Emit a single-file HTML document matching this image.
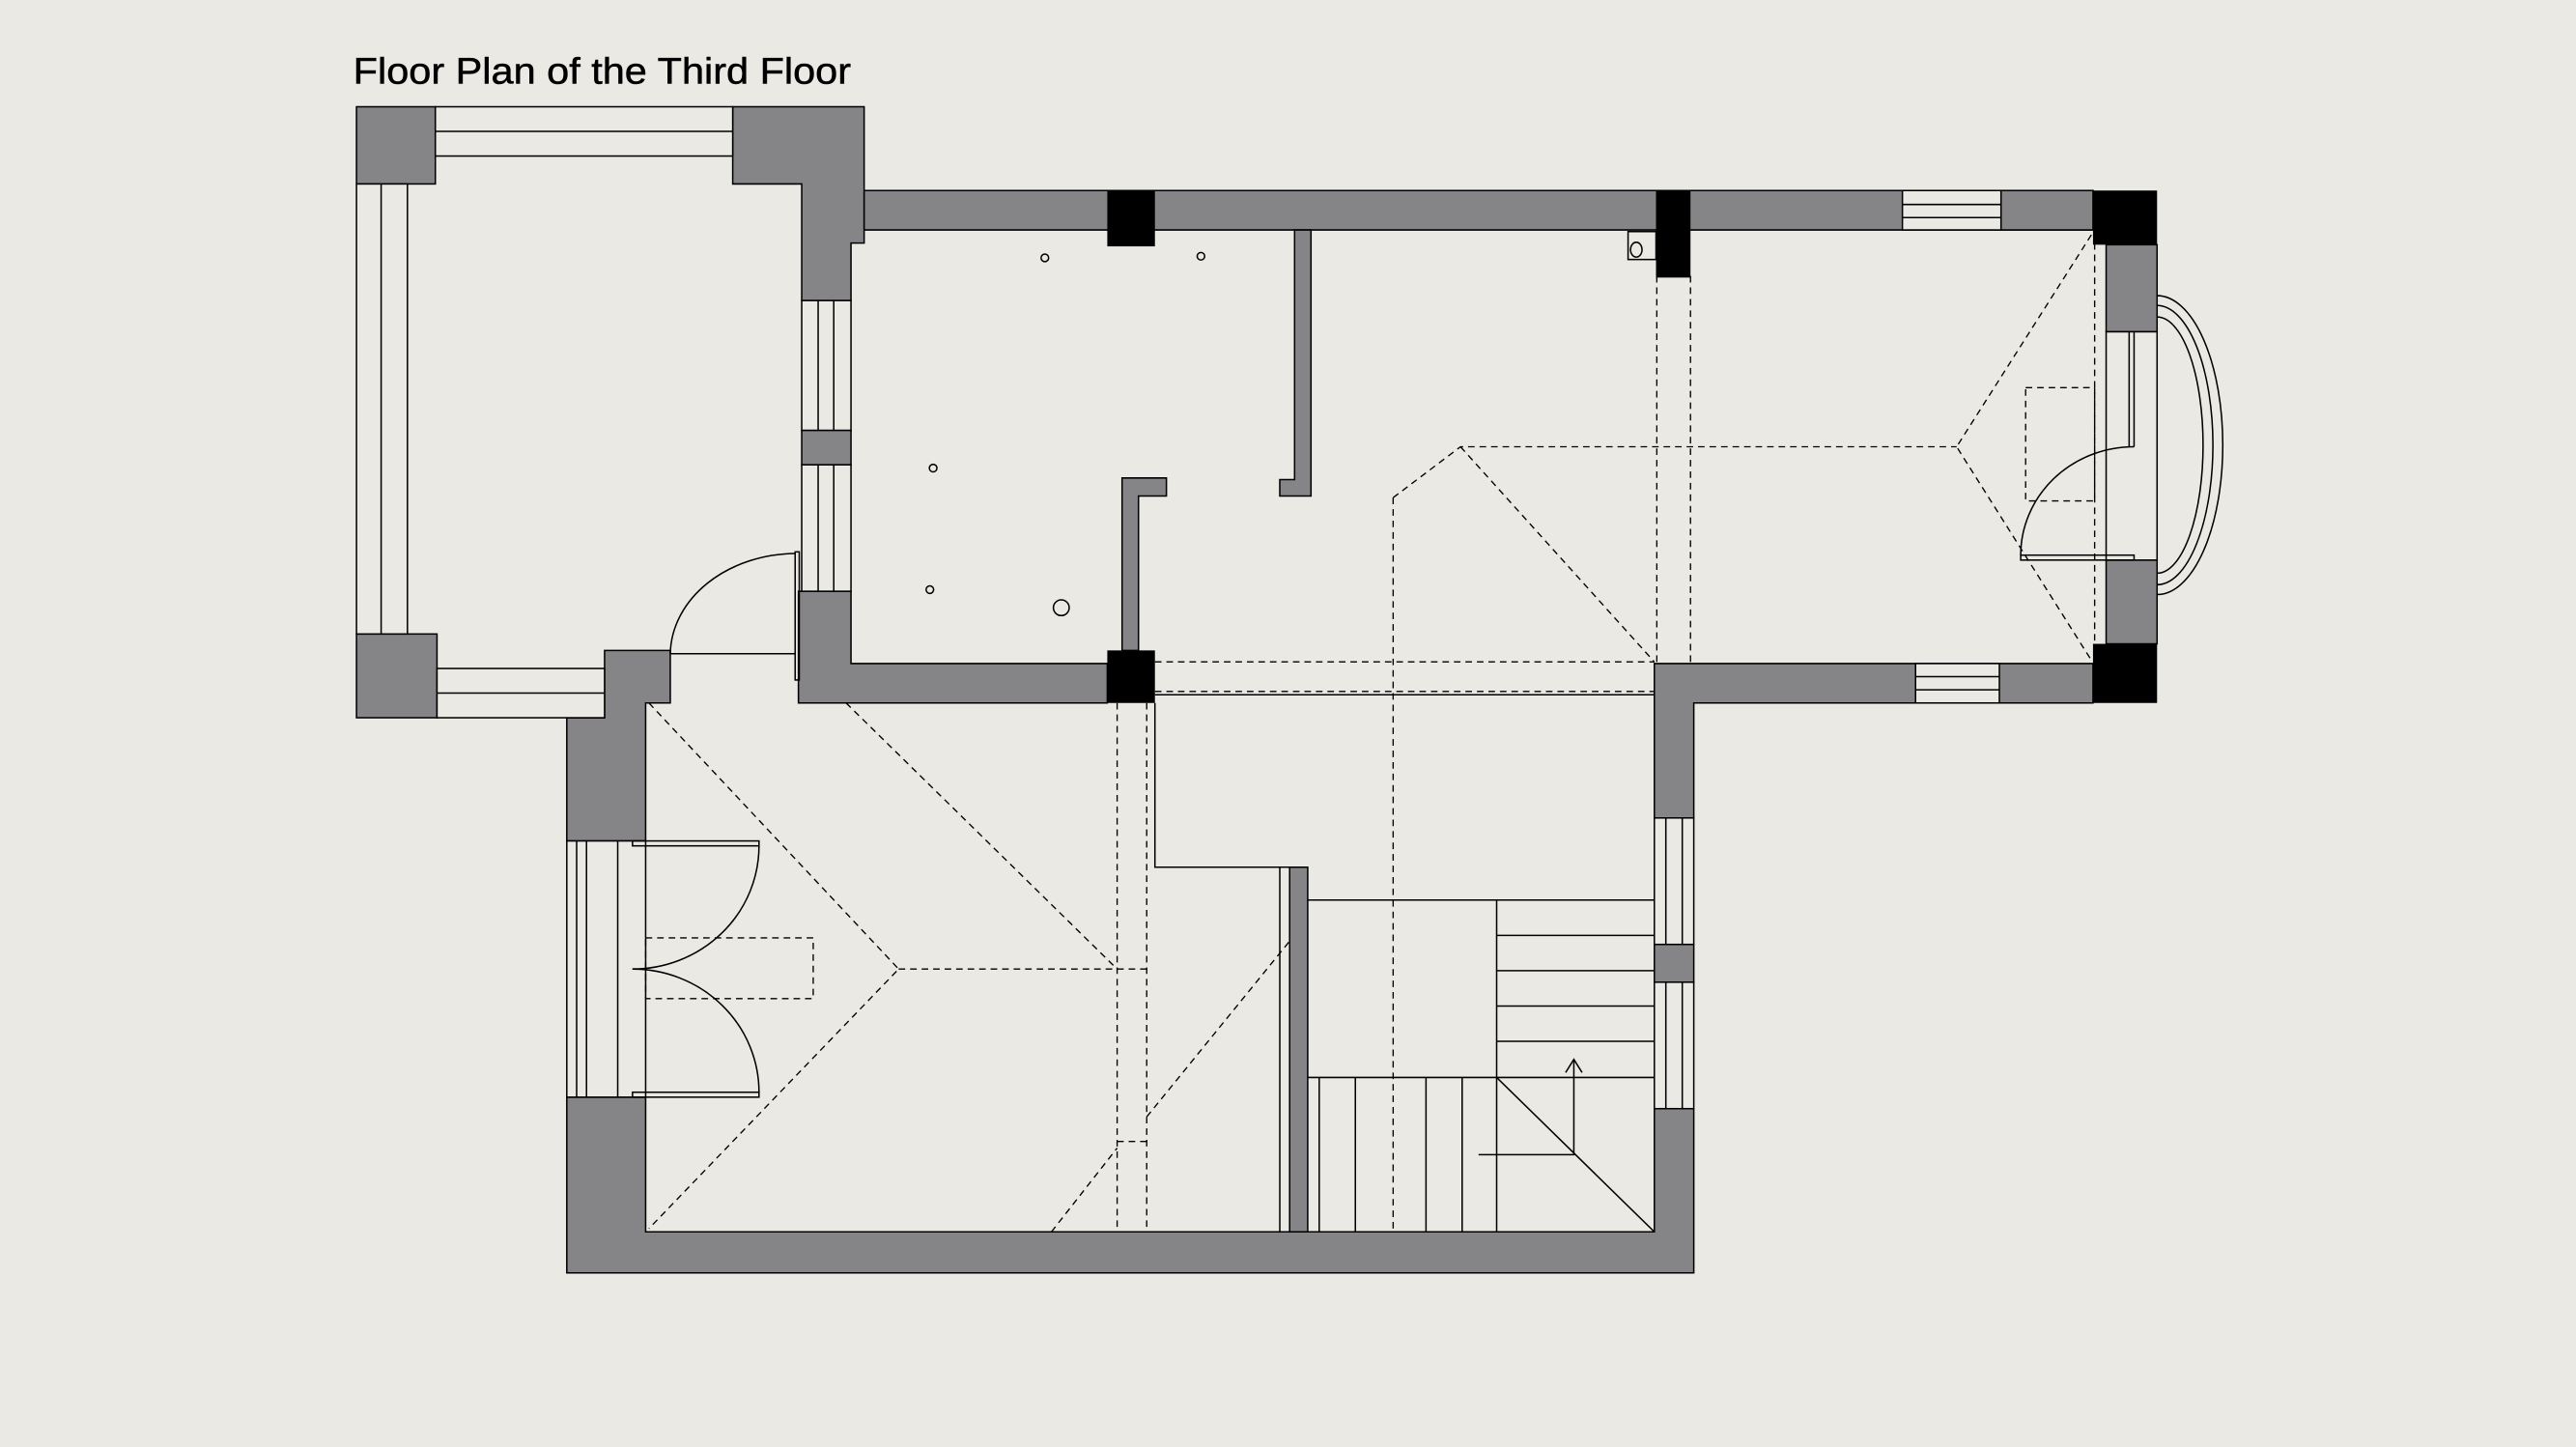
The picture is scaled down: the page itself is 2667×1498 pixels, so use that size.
<!DOCTYPE html>
<html><head><meta charset="utf-8"><style>
html,body{margin:0;padding:0;background:#ebe9e4;}
svg{display:block}
</style></head><body>
<svg width="2667" height="1498" viewBox="0 0 1568 881" preserveAspectRatio="none" xmlns="http://www.w3.org/2000/svg">
<rect width="1568" height="881" fill="#ebe9e4"/>
<text x="215" y="51" font-family="Liberation Sans, sans-serif" font-size="22.5" fill="#000" stroke="#000" stroke-width="0.3" textLength="303" lengthAdjust="spacingAndGlyphs">Floor Plan of the Third Floor</text>
<g stroke="#000" stroke-width="0.9" fill="#858587">
<rect x="217" y="65" width="48" height="47"/>
<rect x="217" y="386" width="49" height="51"/>
<path d="M446 65 H526 V116 H526 V140 H526 V148 H518 V183 H488 V112 H446 Z"/>
<rect x="488" y="262" width="30" height="21"/>
<path d="M486 360 H518 V404 H674 V428 H486 Z"/>
<path d="M368 396 H408 V428 H393 V512 H345 V437 H368 Z"/>
<path d="M526 116 H1274 V140 H526 Z"/>
<rect x="1218" y="116" width="56" height="24"/>
<rect x="1282" y="149" width="31" height="53"/>
<rect x="1282" y="341" width="31" height="51"/>
<path d="M1007 404 H1274 V428 H1031 V498 H1007 Z"/>
<rect x="1007" y="575" width="24" height="23"/>
<path d="M345 668 H393 V750 H1007 V675 H1031 V775 H345 Z"/>
<path d="M788 140 H798 V302 H779 V292 H788 Z"/>
<path d="M683 291 H710 V302 H693 V396 H683 Z"/>
<rect x="785" y="528" width="11" height="222"/>
</g>
<g fill="#000">
<rect x="674" y="116" width="29" height="34"/>
<rect x="1008" y="116" width="21" height="53"/>
<rect x="1274" y="116" width="39" height="33"/>
<rect x="1274" y="392" width="39" height="36"/>
<rect x="674" y="396" width="29" height="32"/>
</g>
<g fill="#ebe9e4" stroke="#000" stroke-width="0.9">
<rect x="265" y="65" width="181" height="30"/><line x1="265" y1="80" x2="446" y2="80"/>
<rect x="217" y="112" width="31" height="274"/><line x1="232" y1="112" x2="232" y2="386"/>
<rect x="266" y="407" width="102" height="30"/><line x1="266" y1="422" x2="368" y2="422"/>
<rect x="488" y="183" width="30" height="79"/><line x1="498" y1="183" x2="498" y2="262"/><line x1="507.5" y1="183" x2="507.5" y2="262"/>
<rect x="488" y="283" width="30" height="77"/><line x1="498" y1="283" x2="498" y2="360"/><line x1="507.5" y1="283" x2="507.5" y2="360"/>
<rect x="1158" y="116" width="60" height="24"/><line x1="1158" y1="124.5" x2="1218" y2="124.5"/><line x1="1158" y1="132.5" x2="1218" y2="132.5"/>
<rect x="1166" y="404" width="51" height="24"/><line x1="1166" y1="412" x2="1217" y2="412"/><line x1="1166" y1="420" x2="1217" y2="420"/>
<rect x="1282" y="202" width="31" height="139"/>
<rect x="345" y="512" width="48" height="156"/><line x1="351" y1="512" x2="351" y2="668"/><line x1="357" y1="512" x2="357" y2="668"/><line x1="376" y1="512" x2="376" y2="668"/>
<rect x="1007" y="498" width="24" height="77"/><line x1="1014" y1="498" x2="1014" y2="575"/><line x1="1024" y1="498" x2="1024" y2="575"/>
<rect x="1007" y="598" width="24" height="77"/><line x1="1014" y1="598" x2="1014" y2="675"/><line x1="1024" y1="598" x2="1024" y2="675"/>
<rect x="991" y="141" width="17" height="17"/>
</g>
<g fill="none" stroke="#000" stroke-width="0.9">
<ellipse cx="996" cy="152" rx="3.5" ry="4.5"/>
<circle cx="636" cy="157" r="2.3"/><circle cx="731" cy="156" r="2.3"/>
<circle cx="568" cy="285" r="2.3"/><circle cx="566" cy="359" r="2.3"/>
<circle cx="646" cy="370" r="4.8"/>
<path d="M408 398 A77 62 0 0 1 484 337"/>
<line x1="408" y1="398" x2="484" y2="398"/>
<rect x="484" y="336" width="2.5" height="78"/>
<path d="M1230 338 A69 66 0 0 1 1299 272"/>
<rect x="1230" y="338" width="69" height="3"/>
<line x1="1296" y1="202" x2="1296" y2="272"/><line x1="1299" y1="202" x2="1299" y2="272"/>
<path d="M1313 180 A40 91 0 0 1 1313 362"/>
<path d="M1313 186 A34 85 0 0 1 1313 356"/>
<path d="M1313 193 A28 78 0 0 1 1313 349"/>
<rect x="385" y="512" width="77" height="3"/>
<rect x="385" y="665" width="77" height="3"/>
<path d="M462 515 A77 75 0 0 1 385 590"/>
<path d="M462 665 A77 75 0 0 0 385 590"/>
<polyline points="703,428 703,528 796,528"/>
<line x1="779" y1="528" x2="779" y2="750"/>
<line x1="703" y1="423" x2="1007" y2="423"/>
<line x1="796" y1="548" x2="1007" y2="548"/>
<line x1="911" y1="548" x2="911" y2="750"/>
<line x1="911" y1="569.5" x2="1007" y2="569.5"/>
<line x1="911" y1="591" x2="1007" y2="591"/>
<line x1="911" y1="612.5" x2="1007" y2="612.5"/>
<line x1="911" y1="634" x2="1007" y2="634"/>
<line x1="796" y1="656" x2="1007" y2="656"/>
<line x1="803" y1="656" x2="803" y2="750"/>
<line x1="825" y1="656" x2="825" y2="750"/>
<line x1="868" y1="656" x2="868" y2="750"/>
<line x1="890" y1="656" x2="890" y2="750"/>
<line x1="911" y1="656" x2="1007" y2="750"/>
<polyline points="900,703 958,703 958,645"/>
<polyline points="953,653 958,645 963,653"/>
</g>
<g fill="none" stroke="#000" stroke-width="0.8" stroke-dasharray="4,3">
<polyline points="395,428 547,590 395,748"/>
<polyline points="515,428 680,590"/>
<line x1="547" y1="590" x2="698" y2="590"/>
<line x1="680" y1="428" x2="680" y2="750"/>
<line x1="698" y1="428" x2="698" y2="750"/>
<line x1="680" y1="695" x2="698" y2="695"/>
<line x1="640" y1="750" x2="680" y2="699"/>
<line x1="698" y1="680" x2="785" y2="573"/>
<rect x="393" y="571" width="102" height="37"/>
<line x1="848" y1="303" x2="848" y2="750"/>
<polyline points="848,303 889,272 1191,272"/>
<line x1="889" y1="272" x2="1007" y2="403"/>
<polyline points="1273,143 1191,272 1273,402"/>
<line x1="1275" y1="141" x2="1275" y2="402"/>
<line x1="1008.5" y1="168" x2="1008.5" y2="404"/>
<line x1="1029" y1="168" x2="1029" y2="404"/>
<line x1="703" y1="403" x2="1007" y2="403"/>
<line x1="703" y1="421" x2="1007" y2="421"/>
<rect x="1233" y="236" width="42" height="69"/>
</g>
</svg>
</body></html>
